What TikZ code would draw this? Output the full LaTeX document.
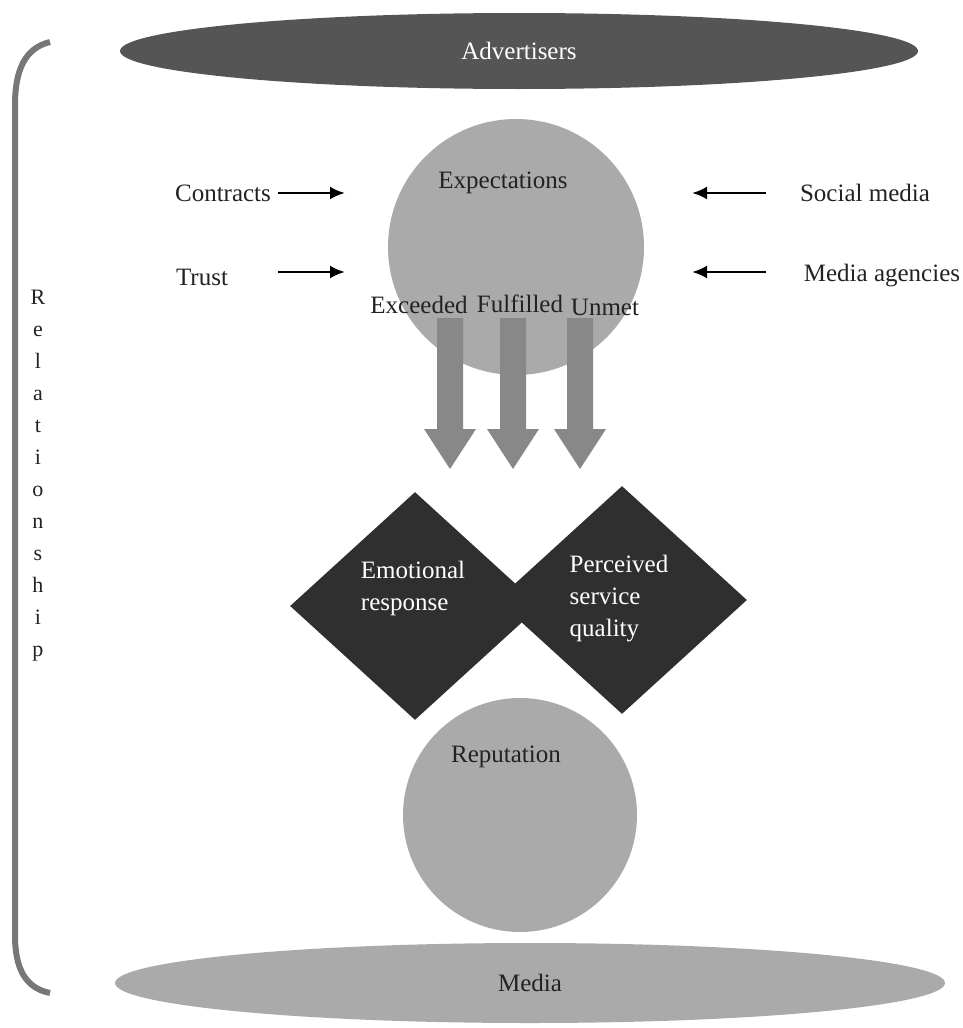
\documentclass[tikz,border=0pt]{standalone}
\usepackage{fontspec}
\setmainfont{Liberation Serif}
\usetikzlibrary{shapes.geometric,arrows.meta}
\definecolor{advgray}{HTML}{555555}
\definecolor{discgray}{HTML}{AAAAAA}
\definecolor{blockgray}{HTML}{888888}
\definecolor{rhombgray}{HTML}{2F2F2F}
\definecolor{bracegray}{HTML}{777777}
\definecolor{inkgray}{HTML}{222222}
\begin{document}
\begin{tikzpicture}[x=0.5pt, y=-0.5pt, >={Latex[length=7.5pt,width=6.5pt]},
  every node/.style={font=\fontsize{12.5}{16}\selectfont, text=inkgray},
  disc/.style={circle, fill=discgray, inner sep=0pt},
  oval/.style={ellipse, inner sep=0pt},
  rhombus/.style={diamond, fill=rhombgray, inner sep=0pt,
    minimum width=125pt, minimum height=114pt},
  rhombtext/.style={text=white, align=left}]
\useasboundingbox (0,0) rectangle (963,1028);

% bracket on the left
\draw[bracegray, line width=3pt] (50,42) .. controls (25,48) and (15,70) .. (15,105)
  -- (15,935) .. controls (15,968) and (25,988) .. (50,993);
\node[font=\fontsize{11}{16}\selectfont, align=center] (rel) at (38,476)
  {R\\e\\l\\a\\t\\i\\o\\n\\s\\h\\i\\p};

% top and bottom ellipses
\node[oval, fill=advgray, text=white, minimum width=399pt, minimum height=38pt] (adv) at (519,51) {Advertisers};
\node[oval, fill=discgray, minimum width=415pt, minimum height=40pt] (media) at (530,983) {Media};

% expectations
\node[disc, minimum size=128pt] (expect) at (516,247) {};
\node (exptext) at (503,183) {Expectations};
\node (contracts) at (223,193) {Contracts};
\node (trust) at (202,277) {Trust};
\node (social) at (865,193) {Social media};
\node (agencies) at (882,276) {Media agencies};
\coordinate (cin) at (345,193);
\coordinate (tout) at (278,272);
\coordinate (tin) at (345,272);
\coordinate (sout) at (766,193);
\coordinate (sin) at (692,193);
\coordinate (aout) at (766,272);
\coordinate (ain) at (692,272);
\draw[->, line width=1.3pt] (contracts.east) -- (cin);
\draw[->, line width=1.3pt] (tout) -- (tin);
\draw[->, line width=1.3pt] (sout) -- (sin);
\draw[->, line width=1.3pt] (aout) -- (ain);

% block arrows
\foreach \x in {450,513,580}
{
    \fill[blockgray] (\x-13,318) -- (\x+13,318) -- (\x+13,429) -- (\x+26,429)
      -- (\x,469) -- (\x-26,429) -- (\x-13,429) -- cycle;
}
\node (exceeded) at (419,305) {Exceeded};
\node (fulfilled) at (520,304) {Fulfilled};
\node (unmet) at (605,307) {Unmet};

% diamonds
\node[rhombus] (emotion) at (415,606) {};
\node[rhombus] (quality) at (622,600) {};
\node[rhombtext] (emotext) at (413,588) {Emotional\\response};
\node[rhombtext] (qualtext) at (619,599) {Perceived\\service\\quality};

% reputation
\node[disc, minimum size=117pt] (rep) at (520,815) {};
\node (reptext) at (506,757) {Reputation};

\end{tikzpicture}
\end{document}
